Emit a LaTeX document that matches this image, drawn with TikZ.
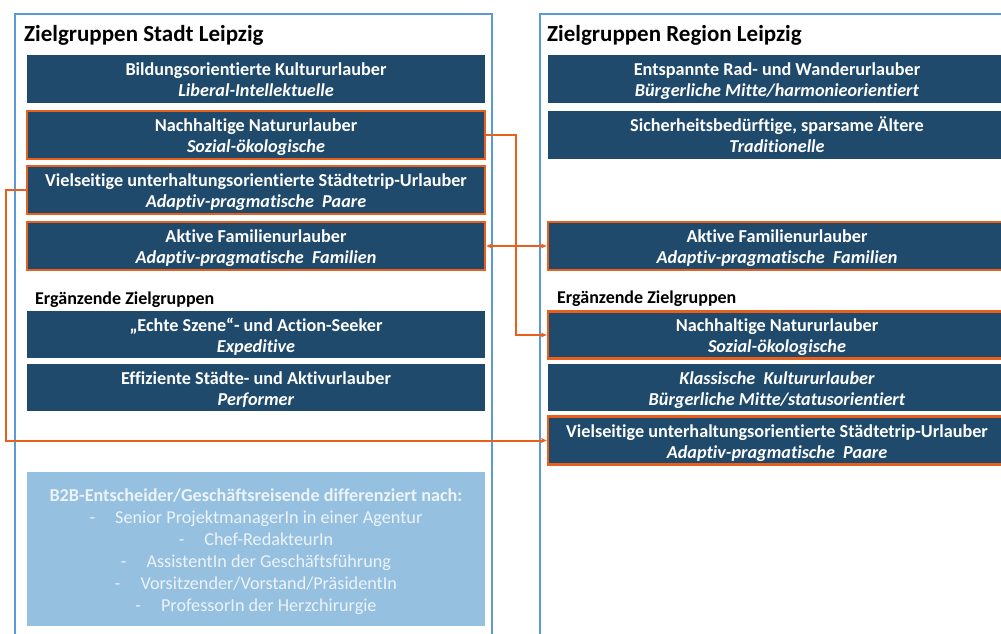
\documentclass[tikz,border=0pt]{standalone}
\usepackage{fontspec}
\setmainfont{Carlito}[Ligatures=NoCommon]
\usetikzlibrary{arrows.meta}
\definecolor{dblue}{RGB}{31,74,107}
\definecolor{oline}{RGB}{232,96,28}
\definecolor{bline}{RGB}{91,155,213}
\definecolor{lblue}{RGB}{149,192,224}
\definecolor{ltext}{RGB}{236,243,249}
\newcommand{\zgtext}[1]{\raisebox{-7.3pt}[0pt][0pt]{\begin{tabular}{@{}c@{}}#1\end{tabular}}}
\begin{document}
\begin{tikzpicture}[x=1pt,y=-1pt,
 zbox/.style={fill=dblue, text=white, minimum width=458pt, minimum height=48pt, inner sep=0pt, font=\fontsize{18.2}{21}\selectfont\bfseries},
 hl/.style={draw=oline, line width=2.5pt},
 frame/.style={draw=bline, line width=2.5pt},
 conn/.style={draw=oline, line width=2pt},
 tip/.style={-{Stealth[length=6pt,width=5pt]}},
 bothtip/.style={{Stealth[length=6pt,width=5pt]}-{Stealth[length=6pt,width=5pt]}},
 title/.style={anchor=west, inner sep=0pt, font=\fontsize{23}{26}\selectfont\bfseries},
 sub/.style={anchor=west, inner sep=0pt, font=\fontsize{18}{20}\selectfont\bfseries},
 ]
\clip (0,0) rectangle (1001,633);
\fill[white] (0,0) rectangle (1001,633);
% outer frames
\draw[frame] (15,14) rectangle (492,660);
\draw[frame] (540,14) rectangle (1025,660);
% titles
\node[title] (tl) at (24,35.5) {Zielgruppen Stadt Leipzig};
\node[title] (tr) at (547,35.5) {Zielgruppen Region Leipzig};
% left column
\node[zbox] (L1) at (256,79) {\zgtext{Bildungsorientierte Kultururlauber\\\textit{Liberal-Intellektuelle}}};
\node[zbox,hl] (L2) at (256,135) {\zgtext{Nachhaltige Natururlauber\\\textit{Sozial-ökologische}}};
\node[zbox,hl] (L3) at (256,190) {\zgtext{Vielseitige unterhaltungsorientierte Städtetrip-Urlauber\\\textit{Adaptiv-pragmatische\ \ Paare}}};
\node[zbox,hl] (L4) at (256,246) {\zgtext{Aktive Familienurlauber\\\textit{Adaptiv-pragmatische\ \ Familien}}};
\node[sub] (el) at (35,299.5) {Ergänzende Zielgruppen};
\node[zbox,minimum height=47pt] (L5) at (256,334.5) {\zgtext{„Echte Szene“- und Action-Seeker\\\textit{Expeditive}}};
\node[zbox,minimum height=47pt] (L6) at (256,387.5) {\zgtext{Effiziente Städte- und Aktivurlauber\\\textit{Performer}}};
\node[fill=lblue, text=ltext, minimum width=458pt, minimum height=154pt, inner sep=0pt, font=\fontsize{18.2}{22}\selectfont] (B2B) at (256,549)
 {\zgtext{\textbf{B2B-Entscheider/Geschäftsreisende differenziert nach:}\\
  -\hspace{20pt}Senior ProjektmanagerIn in einer Agentur\\
  -\hspace{20pt}Chef-RedakteurIn\\
  -\hspace{20pt}AssistentIn der Geschäftsführung\\
  -\hspace{20pt}Vorsitzender/Vorstand/PräsidentIn\\
  -\hspace{20pt}ProfessorIn der Herzchirurgie}};
% right column
\node[zbox] (R1) at (777,79) {\zgtext{Entspannte Rad- und Wanderurlauber\\\textit{Bürgerliche Mitte/harmonieorientiert}}};
\node[zbox] (R2) at (777,135) {\zgtext{Sicherheitsbedürftige, sparsame Ältere\\\textit{Traditionelle}}};
\node[zbox,hl] (R3) at (777,246) {\zgtext{Aktive Familienurlauber\\\textit{Adaptiv-pragmatische\ \ Familien}}};
\node[sub] (er) at (557,298.5) {Ergänzende Zielgruppen};
\node[zbox,hl,minimum height=47pt] (R4) at (777,335) {\zgtext{Nachhaltige Natururlauber\\\textit{Sozial-ökologische}}};
\node[zbox,minimum height=47pt] (R5) at (777,387.5) {\zgtext{\textit{Klassische\ \ Kultururlauber}\\\textit{Bürgerliche Mitte/statusorientiert}}};
\node[zbox,hl] (R6) at (777,440.5) {\zgtext{Vielseitige unterhaltungsorientierte Städtetrip-Urlauber\\\textit{Adaptiv-pragmatische\ \ Paare}}};
% connectors
\draw[conn,tip] (L2.east) -- ++(30,0) |- (R4.west);
\draw[conn,bothtip] (L4.east) -- (R3.west);
\draw[conn,tip] (L3.west) -- ++(-20,0) |- (R6.west);
\end{tikzpicture}
\end{document}
